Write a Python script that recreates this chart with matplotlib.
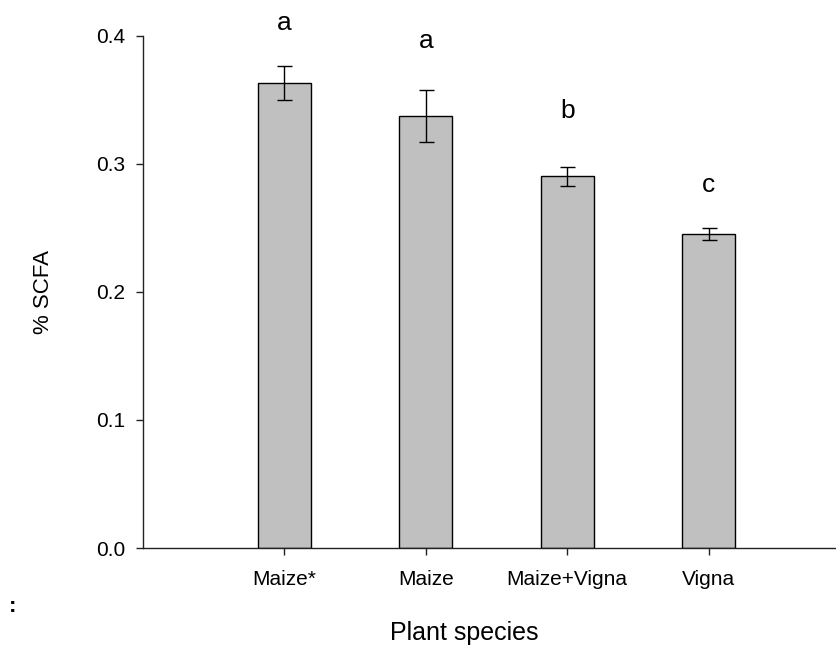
import numpy as np
import matplotlib
matplotlib.use("Agg")
import matplotlib.pyplot as plt

plt.rcParams['font.family'] = ['Liberation Sans', 'DejaVu Sans']

# Dados
categorias = ["Maize*", "Maize", "Maize+Vigna", "Vigna"]
medias = [0.363, 0.337, 0.290, 0.245]
erros = [0.0135, 0.0205, 0.0073, 0.0047]
letras = ["a", "a", "b", "c"]
letras_y = [0.410, 0.396, 0.341, 0.283]

x = np.arange(1, len(categorias) + 1)

fig = plt.figure(figsize=(8.37, 6.46), dpi=100)
# eixo x vai além da borda direita (figura recortada)
ax = fig.add_axes([143 / 837, 98 / 646, (850 - 143) / 837, (548 - 35.5) / 646])

ax.bar(x, medias, width=0.375, color='#c0c0c0', edgecolor='black', linewidth=1.0)
ax.errorbar(x, medias, yerr=erros, fmt='none', ecolor='black',
            elinewidth=1.0, capsize=5.4, capthick=1.0)

for xi, letra, ly in zip(x, letras, letras_y):
    ax.text(xi, ly, letra, ha='center', va='center', fontsize=19, clip_on=False)

ax.set_xlim(0, 5)
ax.set_ylim(0, 0.4)
ax.set_xticks(x)
ax.set_xticklabels(categorias)
ax.set_yticks([0.0, 0.1, 0.2, 0.3, 0.4])
ax.set_yticklabels(["0.0", "0.1", "0.2", "0.3", "0.4"])

for s in ['top', 'right']:
    ax.spines[s].set_visible(False)
for s in ['left', 'bottom']:
    ax.spines[s].set_linewidth(1.0)
    ax.spines[s].set_color('#222222')

ax.tick_params(axis='y', direction='out', length=4.8, width=1.0, pad=8, labelsize=15, color='#222222')
ax.tick_params(axis='x', direction='out', length=4.8, width=1.0, pad=11, labelsize=15, color='#222222')

ax.set_xlabel("Plant species", fontsize=18)
ax.xaxis.set_label_coords((464 - 143) / (850 - 143), -(633 - 548) / (548 - 35.5))
ax.xaxis.label.set_verticalalignment('center')
ax.set_ylabel("% SCFA", fontsize=16, labelpad=30)

fig.text(13 / 837, 1 - 606 / 646, ":", fontsize=16, fontweight='bold', ha='center', va='center')

fig.savefig("out.png", dpi=100)
